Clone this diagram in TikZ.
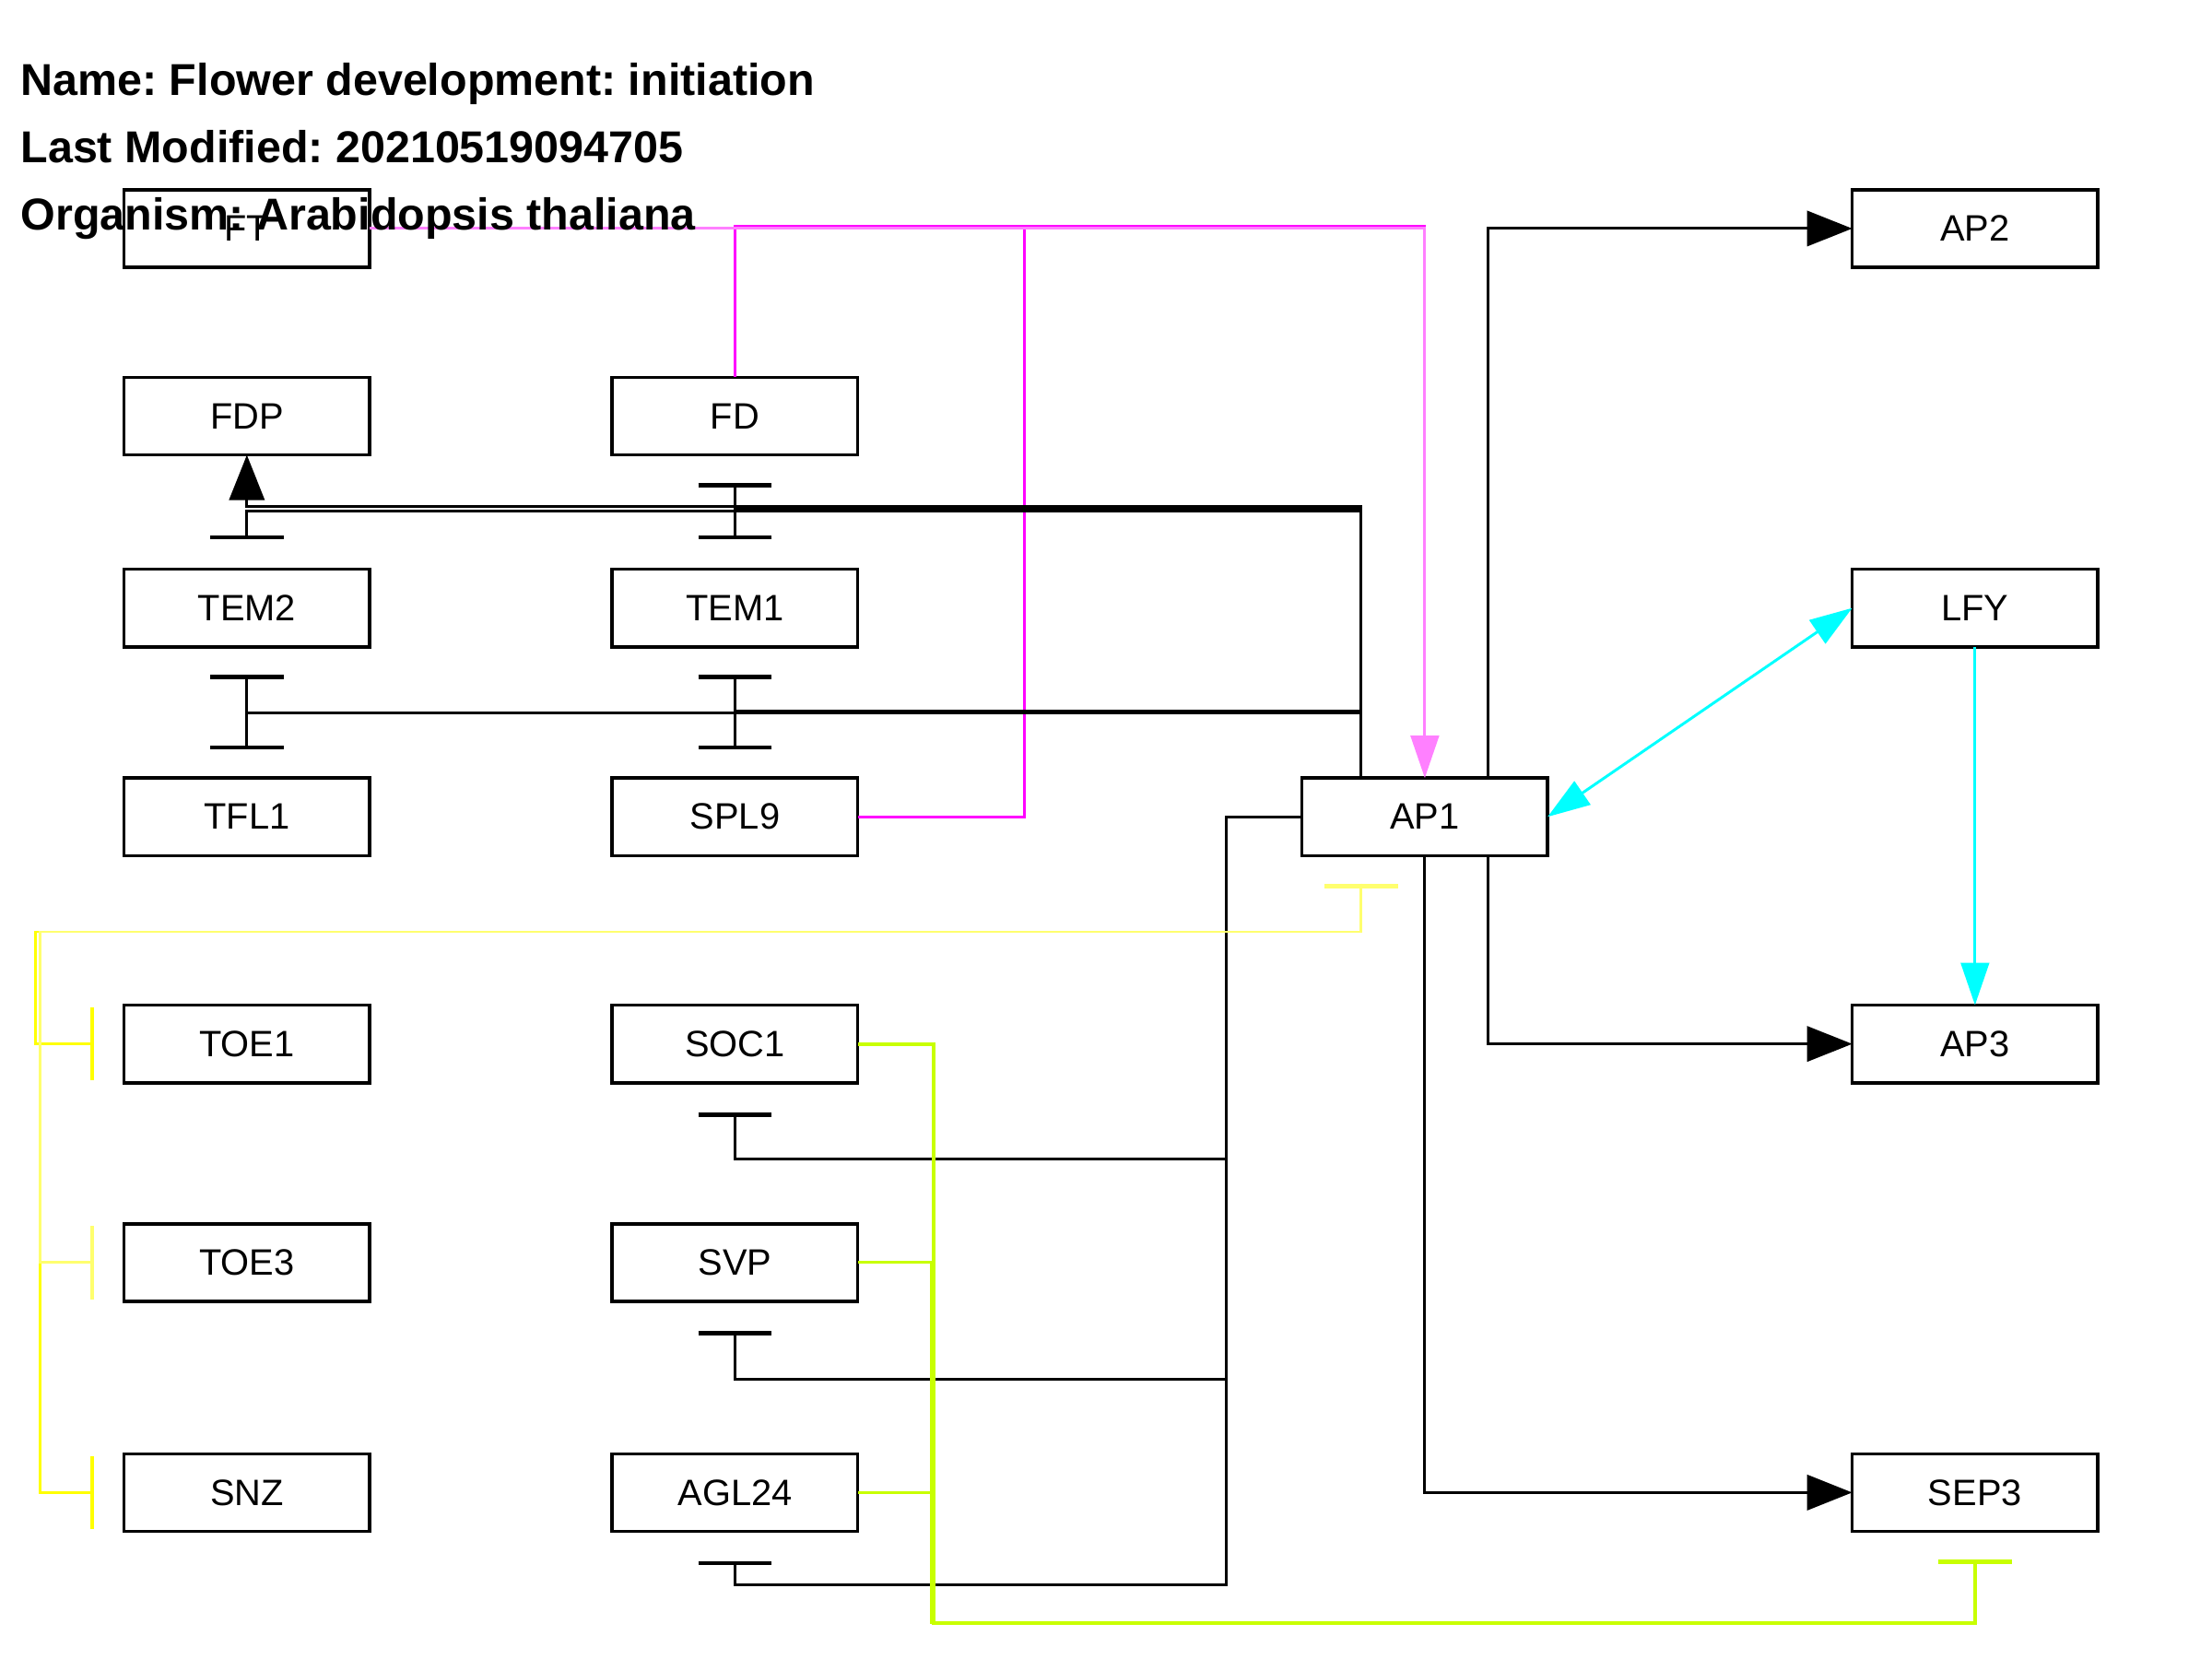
\documentclass[tikz,border=0pt]{standalone}
\usepackage{fontspec}
\setmainfont{Liberation Sans}
\frenchspacing
\usetikzlibrary{arrows.meta,calc}
\definecolor{pinkL}{RGB}{255,128,255}
\definecolor{magB}{RGB}{255,0,255}
\definecolor{yelB}{RGB}{255,255,0}
\definecolor{yelL}{RGB}{255,255,110}
\definecolor{limeC}{RGB}{200,255,0}
\definecolor{cyanC}{RGB}{0,255,255}
\begin{document}
\begin{tikzpicture}[x=0.01cm,y=-0.01cm,
  box/.style={draw,line width=0.65pt,minimum width=1.74cm,minimum height=0.55cm,inner sep=0pt,outer sep=0pt,font=\fontsize{7.4}{9}\selectfont},
  edge/.style={line width=0.55pt},
  act/.style={-{Triangle[length=0.32cm,width=0.25cm]}},
  actc/.style={-{Triangle[length=0.3cm,width=0.2cm]}},
  inh/.style={-{Bar[width=0.52cm,line width=0.9pt]}},
  ttl/.style={anchor=base west,inner sep=0pt,font=\bfseries\fontsize{9}{11}\selectfont}]
\fill[white] (0,0) rectangle (1568,1176);
\useasboundingbox (0,0) rectangle (1568,1176);

% nodes
\node[box] (FT)    at (175,162)  {FT};
\node[box] (FDP)   at (175,295)  {FDP};
\node[box] (FD)    at (521,295)  {FD};
\node[box] (TEM2)  at (175,431)  {TEM2};
\node[box] (TEM1)  at (521,431)  {TEM1};
\node[box] (TFL1)  at (175,579)  {TFL1};
\node[box] (SPL9)  at (521,579)  {SPL9};
\node[box] (AP1)   at (1010,579) {AP1};
\node[box] (AP2)   at (1400,162) {AP2};
\node[box] (LFY)   at (1400,431) {LFY};
\node[box] (AP3)   at (1400,740) {AP3};
\node[box] (SEP3)  at (1400,1058) {SEP3};
\node[box] (TOE1)  at (175,740)  {TOE1};
\node[box] (SOC1)  at (521,740)  {SOC1};
\node[box] (TOE3)  at (175,895)  {TOE3};
\node[box] (SVP)   at (521,895)  {SVP};
\node[box] (SNZ)   at (175,1058) {SNZ};
\node[box] (AGL24) at (521,1058) {AGL24};

\coordinate (a1t) at ($(AP1.north west)+(42,0)$);
\coordinate (a1l) at ($(AP1.west)+(-54,0)$);
\coordinate (yb)  at ($(AP1.south west)+(42,20)$);
\coordinate (yc)  at ($(AP1.south west)+(42,54)$);

% magenta (FD, SPL9 -> AP1)
\draw[edge,magB] (FD.north) |- ($(AP1.north)+(0,-391)$) -- ($(AP1.north)+(0,-30)$);
\draw[edge,magB] (SPL9.east) -- ($(SPL9.east)+(118,0)$) |- ($(AP1.north)+(0,-391)$) -- ($(AP1.north)+(0,-30)$);
% pink FT -> AP1
\draw[edge,pinkL,actc] (FT.east) -| (AP1.north);

% black from AP1 upward-left
\draw[edge,act] (a1t) |- ($(FDP.south)+(0,36.5)$) -- (FDP.south);
\draw[edge,inh] (a1t) |- ($(TEM2.north)+(0,-41.5)$) -- ($(TEM2.north)+(0,-21)$);
\draw[edge,inh] (a1t) |- ($(FD.south)+(0,37.5)$) -- ($(FD.south)+(0,20)$);
\draw[edge,inh] (a1t) |- ($(TEM1.north)+(0,-43)$) -- ($(TEM1.north)+(0,-21)$);
\draw[edge,inh] (a1t) |- ($(TEM2.south)+(0,47)$) -- ($(TEM2.south)+(0,20)$);
\draw[edge,inh] (a1t) |- ($(TFL1.north)+(0,-46)$) -- ($(TFL1.north)+(0,-20)$);
\draw[edge,inh] (a1t) |- ($(TEM1.south)+(0,45.5)$) -- ($(TEM1.south)+(0,20)$);
\draw[edge,inh] (a1t) |- ($(SPL9.north)+(0,-47.5)$) -- ($(SPL9.north)+(0,-20)$);

% black from AP1 to right
\draw[edge,act] ($(AP1.north east)+(-42,0)$) |- (AP2.west);
\draw[edge,act] ($(AP1.south east)+(-42,0)$) |- (AP3.west);
\draw[edge,act] (AP1.south) |- (SEP3.west);

% black from AP1 left to SOC1, SVP, AGL24
\draw[edge,inh] (AP1.west) -- (a1l) |- ($(SOC1.south)+(0,54)$) -- ($(SOC1.south)+(0,21)$);
\draw[edge,inh] (AP1.west) -- (a1l) |- ($(SVP.south)+(0,55)$) -- ($(SVP.south)+(0,21)$);
\draw[edge,inh] (AP1.west) -- (a1l) |- ($(AGL24.south)+(0,38)$) -- ($(AGL24.south)+(0,21)$);

% cyan
\draw[edge,cyanC,{Triangle[length=0.3cm,width=0.2cm]}-{Triangle[length=0.3cm,width=0.2cm]}] (AP1.east) -- (LFY.west);
\draw[edge,cyanC,actc] (LFY.south) -- (AP3.north);

% yellow
\draw[edge,yelB,inh] (yb) -- (yc) -| ($(TOE1.west)+(-62.5,0)$) -- ($(TOE1.west)+(-21,0)$);
\draw[edge,yelB,inh] (yb) -- (yc) -| ($(SNZ.west)+(-59.5,0)$) -- ($(SNZ.west)+(-21,0)$);
\draw[edge,yelL,{Bar[width=0.52cm,line width=0.9pt]}-{Bar[width=0.52cm,line width=0.9pt]}] (yb) -- (yc) -| ($(TOE3.west)+(-59.5,0)$) -- ($(TOE3.west)+(-21,0)$);

% lime
\draw[edge,limeC,inh,line width=0.7pt] (SOC1.east) -- ($(SOC1.east)+(54,0)$) |- ($(SEP3.south)+(0,65)$) -- ($(SEP3.south)+(0,20)$);
\draw[edge,limeC,inh] (SVP.east) -- ($(SVP.east)+(52,0)$) |- ($(SEP3.south)+(0,65)$) -- ($(SEP3.south)+(0,20)$);
\draw[edge,limeC,inh] (AGL24.east) -- ($(AGL24.east)+(52,0)$) |- ($(SEP3.south)+(0,65)$) -- ($(SEP3.south)+(0,20)$);

% title
\node[ttl] (t1) at (14,67.5) {Name: Flower development: initiation};
\node[ttl] (t2) at (14,115.5) {Last Modified: 20210519094705};
\node[ttl] (t3) at (14,163) {Organism: Arabidopsis thaliana};
\end{tikzpicture}
\end{document}
